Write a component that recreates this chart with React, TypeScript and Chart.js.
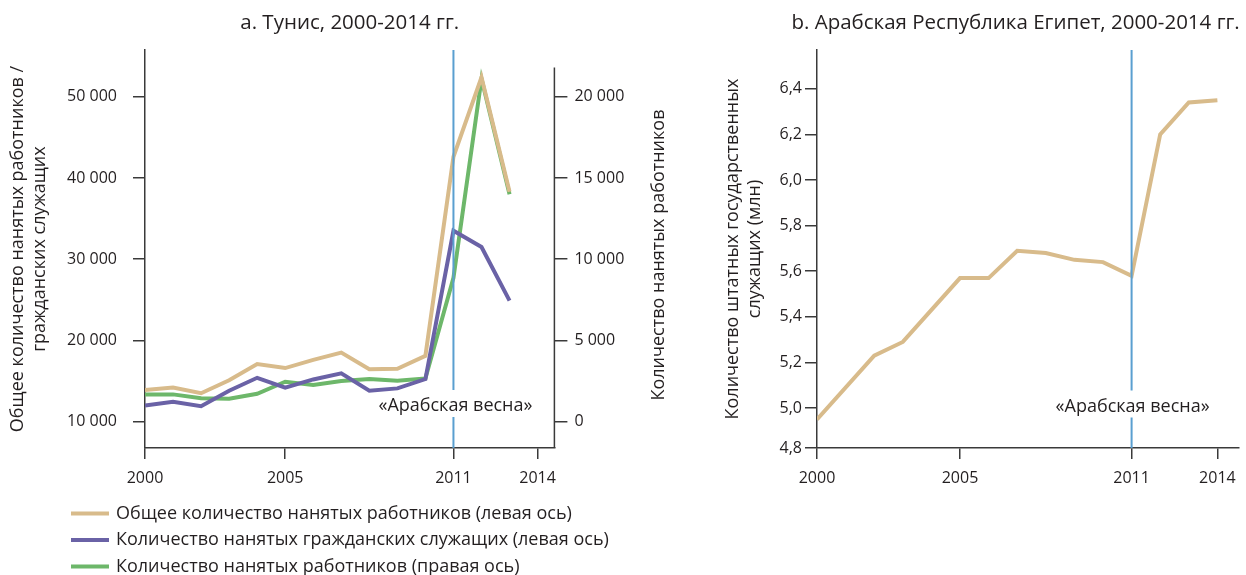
import React, { useEffect, useRef } from 'react';
import { Chart, registerables } from 'chart.js';

Chart.register(...registerables);

// ---------- data ----------
const years = [2000, 2001, 2002, 2003, 2004, 2005, 2006, 2007, 2008, 2009, 2010, 2011, 2012, 2013];
const tunisiaTotal = [13900, 14200, 13500, 15100, 17100, 16600, 17600, 18500, 16450, 16500, 18100, 42600, 52400, 38300];
const tunisiaCivil = [12000, 12450, 11900, 13800, 15400, 14200, 15200, 15950, 13800, 14100, 15250, 33500, 31500, 24900];
const tunisiaRightAxis = [1680, 1680, 1440, 1410, 1715, 2460, 2260, 2500, 2630, 2520, 2660, 8850, 21100, 14000];

const egyptYears = [2000, 2001, 2002, 2003, 2004, 2005, 2006, 2007, 2008, 2009, 2010, 2011, 2012, 2013, 2014];
const egyptCivil = [4.95, null, 5.23, 5.29, null, 5.57, 5.57, 5.69, 5.68, 5.65, 5.64, 5.58, 6.2, 6.34, 6.35];

const xTicks = [2000, 2005, 2011, 2014];
const tunisiaLeftTicks = [10000, 20000, 30000, 40000, 50000];
const tunisiaRightTicks = [0, 5000, 10000, 15000, 20000];
const egyptTicks = [4.8, 5.0, 5.2, 5.4, 5.6, 5.8, 6.0, 6.2, 6.4];

const seriesLabels = [
  'Общее количество нанятых работников (левая ось)',
  'Количество нанятых гражданских служащих (левая ось)',
  'Количество нанятых работников (правая ось)',
];
const titleTunisia = 'a. Тунис, 2000-2014 гг.';
const titleEgypt = 'b. Арабская Республика Египет, 2000-2014 гг.';
const tunisiaLeftTitle = ['Общее количество нанятых работников /', 'гражданских служащих'];
const tunisiaRightTitle = 'Количество нанятых работников';
const egyptTitle = ['Количество штатных государственных', 'служащих (млн)'];
const springLabel = '«Арабская весна»';
const springYear = 2011;

// ---------- styles ----------
const FONT = "'Open Sans', sans-serif";
const TEXT = '#231F20';
const AXIS = '#3A3A3A';
const TAN = '#D8BB8B';
const PURPLE = '#6A62A6';
const GREEN = '#6DB76A';
const BLUE = '#5A9FD0';

Chart.defaults.font.family = FONT;
Chart.defaults.color = TEXT;

const pts = (xs: number[], ys: (number | null)[]) => xs.map((x, i) => ({ x, y: ys[i] }));
const thousands = (v: number) => String(Math.round(v)).replace(/\B(?=(\d{3})+(?!\d))/g, ' ');

const springPlugin = {
  id: 'springLine',
  afterDatasetsDraw(chart: any, _a: any, opts: any) {
    const { ctx, chartArea, scales } = chart;
    const x = scales.x.getPixelForValue(opts.year);
    const ly = chartArea.bottom - opts.labelOffset;
    ctx.save();
    ctx.strokeStyle = BLUE;
    ctx.lineWidth = 2;
    ctx.beginPath();
    ctx.moveTo(x, chartArea.top);
    ctx.lineTo(x, ly - 16);
    ctx.moveTo(x, ly + 11);
    ctx.lineTo(x, chartArea.bottom);
    ctx.stroke();
    ctx.font = `18px ${FONT}`;
    ctx.fillStyle = TEXT;
    ctx.textAlign = 'center';
    ctx.textBaseline = 'middle';
    ctx.fillText(opts.label, x + (opts.dx || 0), ly);
    ctx.restore();
  },
};

const tunisiaExtras = {
  id: 'tunisiaExtras',
  afterDraw(chart: any, _a: any, opts: any) {
    const { ctx, chartArea, scales } = chart;
    ctx.save();
    // right axis line (shorter than the left one)
    const yTop = scales.y1.getPixelForValue(opts.rightAxisTop);
    ctx.strokeStyle = AXIS;
    ctx.lineWidth = 1.5;
    ctx.beginPath();
    ctx.moveTo(chartArea.right, chartArea.bottom);
    ctx.lineTo(chartArea.right, yTop);
    ctx.stroke();
    // right axis title, reading bottom to top
    ctx.translate(chartArea.right + opts.rightTitleDx, (chartArea.top + chartArea.bottom) / 2 + 6);
    ctx.rotate(-Math.PI / 2);
    ctx.font = `18px ${FONT}`;
    ctx.fillStyle = TEXT;
    ctx.textAlign = 'center';
    ctx.textBaseline = 'middle';
    ctx.fillText(opts.rightTitle, 0, 0);
    ctx.restore();
    // legend
    ctx.save();
    ctx.font = `18px ${FONT}`;
    ctx.textBaseline = 'middle';
    ctx.textAlign = 'left';
    chart.data.datasets.forEach((ds: any, i: number) => {
      const y = opts.legendY + i * opts.legendRow;
      ctx.strokeStyle = ds.borderColor;
      ctx.lineWidth = 4;
      ctx.beginPath();
      ctx.moveTo(opts.legendX, y);
      ctx.lineTo(opts.legendX + 38, y);
      ctx.stroke();
      ctx.fillStyle = TEXT;
      ctx.fillText(ds.label, opts.legendX + 45, y);
    });
    ctx.restore();
  },
};

const axisGrid = (len: number) => ({
  drawOnChartArea: false,
  drawTicks: true,
  tickLength: len,
  color: AXIS,
  lineWidth: 1.5,
});

function tunisiaConfig(): any {
  return {
    type: 'line',
    data: {
      datasets: [
        { label: seriesLabels[0], data: pts(years, tunisiaTotal), borderColor: TAN, backgroundColor: TAN, yAxisID: 'y' },
        { label: seriesLabels[1], data: pts(years, tunisiaCivil), borderColor: PURPLE, backgroundColor: PURPLE, yAxisID: 'y' },
        { label: seriesLabels[2], data: pts(years, tunisiaRightAxis), borderColor: GREEN, backgroundColor: GREEN, yAxisID: 'y1' },
      ],
    },
    options: {
      responsive: false,
      animation: false,
      devicePixelRatio: 1,
      layout: { padding: 0 },
      elements: { point: { radius: 0 }, line: { borderWidth: 4, tension: 0 } },
      plugins: {
        legend: { display: false },
        tooltip: { enabled: false },
        title: {
          display: true,
          text: titleTunisia,
          fullSize: false,
          color: TEXT,
          font: { size: 20.5, weight: 'normal', lineHeight: 1.2 },
          padding: { top: 10.4, bottom: 15 },
        },
        springLine: { year: springYear, label: springLabel, labelOffset: 42, dx: 2 },
        tunisiaExtras: {
          rightAxisTop: 21800,
          rightTitle: tunisiaRightTitle,
          rightTitleDx: 104,
          legendX: 71,
          legendY: 513.5,
          legendRow: 26.5,
        },
      },
      scales: {
        x: {
          type: 'linear',
          min: 2000,
          max: 2014.6,
          afterBuildTicks: (s: any) => { s.ticks = xTicks.map((v) => ({ value: v })); },
          afterFit: (s: any) => { s.height = 127; },
          ticks: { autoSkip: false, maxRotation: 0, padding: 10, font: { size: 16 }, color: TEXT, callback: (v: any) => String(v) },
          grid: axisGrid(11),
          border: { display: true, color: AXIS, width: 1.5 },
        },
        y: {
          type: 'linear',
          position: 'left',
          min: 6760,
          max: 55750,
          afterBuildTicks: (s: any) => { s.ticks = tunisiaLeftTicks.map((v) => ({ value: v })); },
          afterFit: (s: any) => { s.width = 145; },
          ticks: { padding: 16, font: { size: 16 }, color: TEXT, callback: (v: any) => thousands(v) },
          grid: axisGrid(12),
          border: { display: true, color: AXIS, width: 1.5 },
          title: {
            display: true,
            text: tunisiaLeftTitle,
            color: TEXT,
            font: { size: 18, lineHeight: 1.22 },
            padding: { top: 7, bottom: 0 },
          },
        },
        y1: {
          type: 'linear',
          position: 'right',
          min: -1620,
          max: 22875,
          afterBuildTicks: (s: any) => { s.ticks = tunisiaRightTicks.map((v) => ({ value: v })); },
          afterFit: (s: any) => { s.width = 145.6; },
          ticks: { padding: 7, font: { size: 16 }, color: TEXT, callback: (v: any) => thousands(v) },
          grid: axisGrid(13),
          border: { display: false },
        },
      },
    },
    plugins: [springPlugin, tunisiaExtras],
  };
}

function egyptConfig(): any {
  return {
    type: 'line',
    data: {
      datasets: [
        { label: 'Египет', data: pts(egyptYears, egyptCivil), borderColor: TAN, backgroundColor: TAN, spanGaps: true },
      ],
    },
    options: {
      responsive: false,
      animation: false,
      devicePixelRatio: 1,
      layout: { padding: { left: 0, right: 6.3, top: 0, bottom: 0 } },
      elements: { point: { radius: 0 }, line: { borderWidth: 4, tension: 0 } },
      plugins: {
        legend: { display: false },
        tooltip: { enabled: false },
        title: {
          display: true,
          text: titleEgypt,
          align: 'end',
          color: TEXT,
          font: { size: 20.5, weight: 'normal', lineHeight: 1.2 },
          padding: { top: 10.4, bottom: 15 },
        },
        springLine: { year: springYear, label: springLabel, labelOffset: 41.5, dx: 1 },
      },
      scales: {
        x: {
          type: 'linear',
          min: 2000,
          max: 2014.73,
          afterBuildTicks: (s: any) => { s.ticks = xTicks.map((v) => ({ value: v })); },
          afterFit: (s: any) => { s.height = 127; },
          ticks: { autoSkip: false, maxRotation: 0, padding: 10, font: { size: 16 }, color: TEXT, callback: (v: any) => String(v) },
          grid: axisGrid(11),
          border: { display: true, color: AXIS, width: 1.5 },
        },
        y: {
          type: 'linear',
          position: 'left',
          min: 4.825,
          max: 6.57,
          afterBuildTicks: (s: any) => { s.ticks = egyptTicks.map((v) => ({ value: Math.max(v, s.min) })); },
          afterFit: (s: any) => { s.width = 117; },
          ticks: { padding: 3, font: { size: 16 }, color: TEXT, callback: (v: any) => Number(v).toFixed(1).replace('.', ',') },
          grid: axisGrid(12),
          border: { display: true, color: AXIS, width: 1.5 },
          title: {
            display: true,
            text: egyptTitle,
            color: TEXT,
            font: { size: 18, lineHeight: 1.22 },
            padding: { top: 22, bottom: 0 },
          },
        },
      },
    },
    plugins: [springPlugin],
  };
}

export default function App() {
  const leftRef = useRef<HTMLCanvasElement>(null);
  const rightRef = useRef<HTMLCanvasElement>(null);
  useEffect(() => {
    const c1 = new Chart(leftRef.current as HTMLCanvasElement, tunisiaConfig());
    const c2 = new Chart(rightRef.current as HTMLCanvasElement, egyptConfig());
    return () => {
      c1.destroy();
      c2.destroy();
    };
  }, []);
  return (
    <div style={{ position: 'fixed', left: 0, top: 0, width: 1246, height: 575, background: '#fff', overflow: 'hidden' }}>
      <canvas ref={leftRef} width={700} height={575} style={{ position: 'absolute', left: 0, top: 0, width: 700, height: 575 }} />
      <canvas ref={rightRef} width={546} height={575} style={{ position: 'absolute', left: 700, top: 0, width: 546, height: 575 }} />
    </div>
  );
}
